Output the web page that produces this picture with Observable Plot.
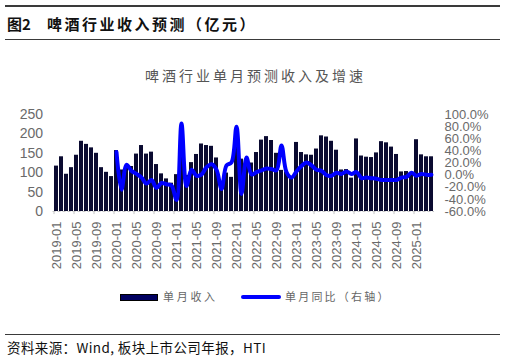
<!DOCTYPE html>
<html>
<head>
<meta charset="utf-8">
<script src="https://cdn.jsdelivr.net/npm/d3@7"></script>
<script src="https://cdn.jsdelivr.net/npm/@observablehq/plot@0.6"></script>
<style>
  body { margin: 0; background: #fff; }
  #wrap { position: relative; width: 506px; height: 359px; background: #fff; overflow: hidden; font-family: "Liberation Sans", Arial, sans-serif; }
  .rule { position: absolute; left: 5px; width: 495px; height: 1.5px; background: #3a3a3a; }
  .abs { position: absolute; white-space: nowrap; line-height: 1; }
  #chart { position: absolute; left: 0; top: 100px; }
</style>
</head>
<body>
<div id="wrap">
  <div class="rule" style="top:5px"></div>
  <div class="abs" style="left:7px;top:16px;font-family:'Noto Sans CJK SC';font-weight:bold;font-size:15px;color:#111;">图2</div>
  <div class="abs" style="left:47px;top:16px;font-family:'Noto Sans CJK SC';font-weight:bold;font-size:15px;letter-spacing:2.5px;color:#111;">啤酒行业收入预测（亿元）</div>
  <div class="rule" style="top:38.5px"></div>
  <div class="abs" style="left:145px;top:68px;font-family:'Noto Sans CJK SC';font-size:14px;letter-spacing:3px;color:#555;">啤酒行业单月预测收入及增速</div>
  <div id="chart"></div>
  <div class="abs" style="left:120px;top:294px;width:36px;height:5px;background:#000060;border:1px solid #000;"></div>
  <div class="abs" style="left:163px;top:291px;font-family:'Noto Sans CJK SC';font-size:11px;letter-spacing:2.7px;color:#666;">单月收入</div>
  <div class="abs" style="left:241px;top:295px;width:40px;height:4px;border-radius:2px;background:#0000ff;"></div>
  <div class="abs" style="left:285px;top:291px;font-family:'Noto Sans CJK SC';font-size:11px;letter-spacing:2.2px;color:#666;">单月同比（右轴）</div>
  <div class="rule" style="top:333.5px"></div>
  <div class="abs" style="left:7px;top:341px;font-family:'Noto Sans CJK SC';font-size:13.5px;letter-spacing:0.4px;color:#111;">资料来源：Wind, 板块上市公司年报，HTI</div>
</div>
<script>
// Categories: monthly, 2019-01 .. 2025-04
const months = [];
for (let y = 2019; y <= 2025; y++) {
  for (let m = 1; m <= 12; m++) {
    if (y === 2025 && m > 4) break;
    months.push(`${y}-${String(m).padStart(2, "0")}`);
  }
}

// 单月收入 (亿元)
const revenue = [
  117, 141, 96, 113, 145, 181, 173, 164, 150, 113, 101, 90,
  157, 107, 112, 116, 148, 170, 148, 153, 121, 97, 84, 73,
  95, 198, 93, 126, 147, 174, 170, 168, 138, 72, 99, 88,
  170, 135, 120, 125, 152, 184, 193, 183, 150, 106, 102, 84,
  178, 152, 146, 145, 161, 195, 192, 181, 158, 107, 108, 86,
  187, 143, 140, 139, 151, 180, 177, 166, 147, 102, 103, 98,
  185, 146, 141, 141
];

// 单月同比 (%), starts 2020-01
const yoy = [
  null, null, null, null, null, null, null, null, null, null, null, null,
  38, -24, 17, 7, 2, -4, -14, -8, -21, -13, -15, -17,
  -41, 85, -18, 9, -1, 1, 13, 18, 9, -23, 16, 21,
  80, -31, 29, 1, 5, 8, 11, 10, 8, 49, 5, -4,
  6, 15, 21, 16, 9, 7, 0, -1, 4, 2, 6, 2,
  5, -5, -4, -5, -6, -8, -8, -8, -8, -4, -3, 4,
  -1, 2, 0.5, 0.5
];

const leftTicks = [0, 50, 100, 150, 200, 250];
const rightTicks = [-60, -40, -20, 0, 20, 40, 60, 80, 100];
const xTicks = ["2019-01","2019-05","2019-09","2020-01","2020-05","2020-09","2021-01","2021-05","2021-09",
  "2022-01","2022-05","2022-09","2023-01","2023-05","2023-09","2024-01","2024-05","2024-09","2025-01"];

// right axis (-60%..100%) shares the left axis range (0..250)
const rMin = -60, rMax = 100, lMax = 250;
const toLeft = p => (p - rMin) * lMax / (rMax - rMin);
const fromLeft = v => Math.round(v * (rMax - rMin) / lMax + rMin);

const table = months.map((m, i) => ({month: m, rev: revenue[i], yoy: yoy[i]}));
const lineData = table.filter(d => d.yoy != null);

const chart = Plot.plot({
  width: 506,
  height: 180,
  marginTop: 14,
  marginBottom: 69,
  marginLeft: 52.5,
  marginRight: 72,
  style: {fontFamily: "'Liberation Sans', Arial, sans-serif", color: "#6a6a6a", background: "transparent"},
  x: {type: "band", domain: months, padding: 0.3, axis: null},
  y: {domain: [0, 250], axis: null},
  marks: [
    Plot.ruleY([0], {stroke: "#c4c4c4", strokeDasharray: "3,2"}),
    Plot.ruleX(xTicks, {x: d => d, y1: 0, y2: -8, dx: -2.5, stroke: "#c4c4c4"}),
    Plot.barY(table, {x: "month", y: "rev", fill: "#0a0a30"}),
    Plot.line(lineData, {x: "month", y: d => toLeft(d.yoy), stroke: "#0000ff", strokeWidth: 4, curve: "catmull-rom"}),
    Plot.axisY(leftTicks, {anchor: "left", tickSize: 0, tickPadding: 10, fontSize: 14, label: null}),
    Plot.axisY(rightTicks.map(toLeft), {anchor: "right", tickSize: 0, tickPadding: 10, fontSize: 13, label: null,
      tickFormat: v => fromLeft(v).toFixed(1) + "%"}),
    Plot.axisX(xTicks, {anchor: "bottom", tickSize: 0, tickPadding: 10, tickRotate: -90, fontSize: 13, label: null})
  ]
});
document.getElementById("chart").appendChild(chart);
</script>
</body>
</html>
